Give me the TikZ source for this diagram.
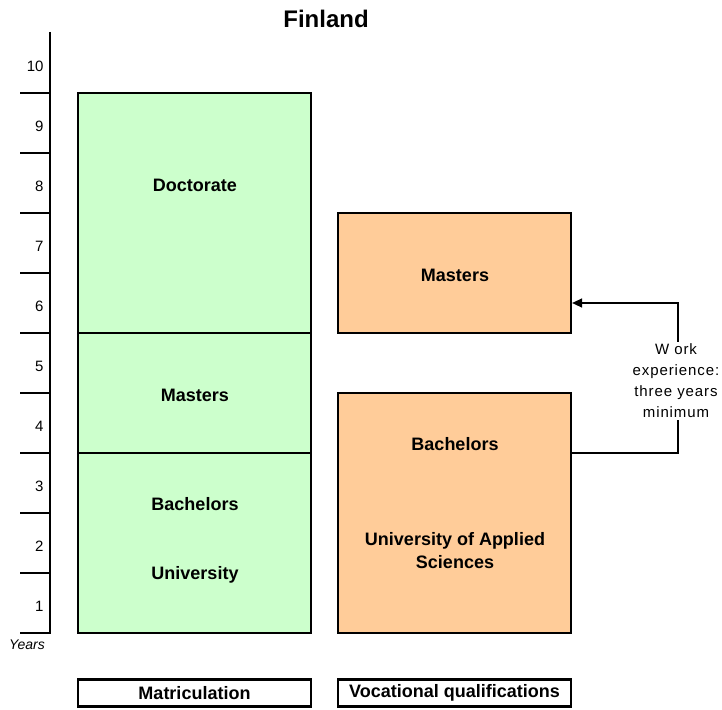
\documentclass[tikz,border=0pt]{standalone}
\usepackage{fontspec}
\setmainfont{Liberation Sans}
\usetikzlibrary{arrows.meta}
\definecolor{grn}{HTML}{CCFFCC}
\definecolor{org}{HTML}{FFCC99}
\begin{document}
\begin{tikzpicture}[x=1pt,y=-1pt,
  box/.style={draw=black,line width=2.2pt},
  lbl/.style={font=\bfseries\fontsize{18}{23}\selectfont},
  yr/.style={font=\fontsize{15}{18}\selectfont,anchor=east},
  conn/.style={line width=1.4pt}]
\useasboundingbox (0,0) rectangle (722,709);
\node[font=\bfseries\fontsize{24}{28}\selectfont] (title) at (326,19) {Finland};
% axis
\draw[line width=2.2pt] (50,32) -- (50,634);
\foreach \k in {0,...,9}{
  \draw[line width=1.4pt] (20,{633-60*\k}) -- (50,{633-60*\k});
}
\foreach \k in {1,...,10}{
  \node[yr] (y\k) at (47,{633-60*\k+33}) {\k};
}
\node[font=\itshape\fontsize{14}{16}\selectfont] (years) at (27,645) {Years};
% green column
\draw[box,fill=grn] (78,93) rectangle (311,333);
\draw[box,fill=grn] (78,333) rectangle (311,453);
\draw[box,fill=grn] (78,453) rectangle (311,633);
\node[lbl] (doc) at (195,185) {Doctorate};
\node[lbl] (gm) at (195,395) {Masters};
\node[lbl] (gb) at (195,504) {Bachelors};
\node[lbl] (gu) at (195,575) {University};
% orange column
\node[box,fill=org,minimum width=233pt,minimum height=120pt,inner sep=0pt] (om) at (454.5,273) {};
\node[box,fill=org,minimum width=233pt,minimum height=240pt,inner sep=0pt] (ob) at (454.5,513) {};
\node[lbl] (omt) at (455,275) {Masters};
\node[lbl] (obt) at (455,444) {Bachelors};
\node[lbl,align=center] (uas) at (455,551) {University of Applied\\Sciences};
% connector
\coordinate (c1) at (678,453);
\coordinate (c2) at (678,303);
\draw[conn,-{Triangle[length=10pt,width=9pt]}] (ob.east |- c1) -- (c1) -- (c2) -- (om.east |- c2);
\node[fill=white,align=center,inner sep=2pt,font=\addfontfeature{LetterSpace=6}\fontsize{15}{21}\selectfont] (we) at (676,381) {W ork\\experience:\\three years\\minimum};
% bottom boxes
\node[box,minimum width=233pt,minimum height=27pt,inner sep=0pt,lbl] (mat) at (194.5,693) {Matriculation};
\node[box,minimum width=233pt,minimum height=27pt,inner sep=0pt,lbl] (voc) at (454.5,693) {Vocational qualifications};
\end{tikzpicture}
\end{document}
